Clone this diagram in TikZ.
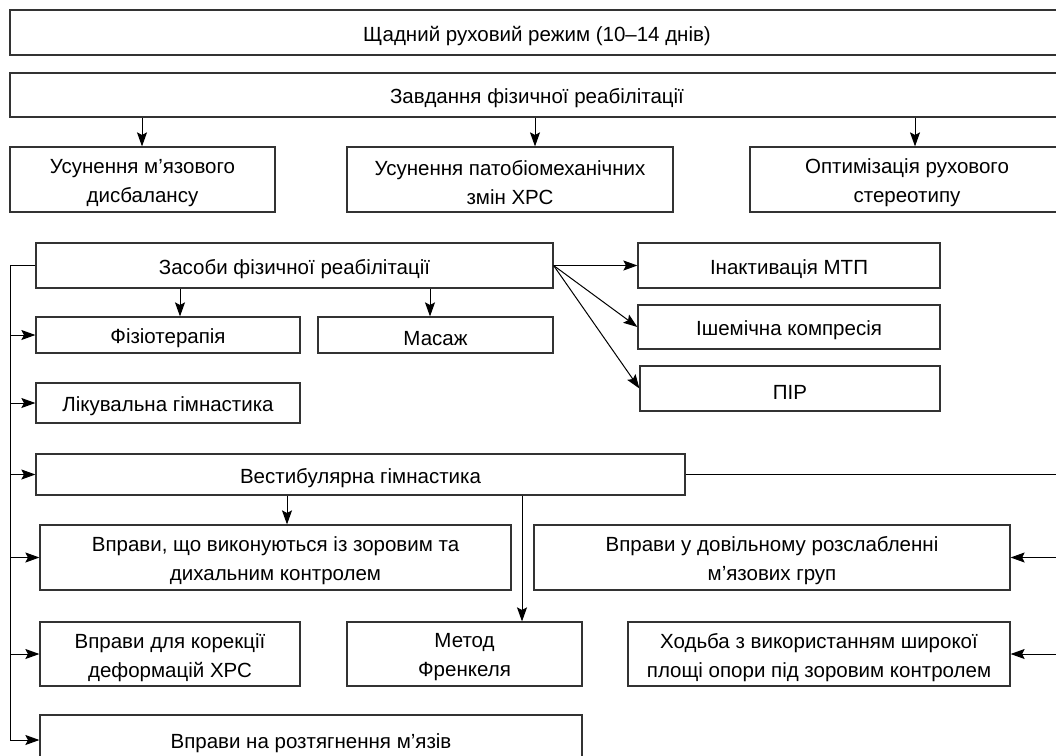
\documentclass[tikz,border=0pt]{standalone}
\usepackage{fontspec}
\setmainfont{Liberation Sans}
\usetikzlibrary{arrows.meta}
\tikzset{
  box/.style={draw=black!80, line width=1.2pt, inner sep=0pt},
  lbl/.style={inner sep=0pt, align=center, yshift=-3.5pt,
    font=\fontsize{20.5}{29}\selectfont},
  conn/.style={line width=1pt, draw=black},
  arr/.style={conn, -{Stealth[length=14pt,width=10pt,inset=2.5pt]}}
}
\newcommand\mybox[6]{%
  \node[box, minimum width={#4pt-#2pt}, minimum height={#5pt-#3pt},
    label={[lbl]center:{#6}}]
    (#1) at ({(#2+#4)/2},{(#3+#5)/2}) {};}
\begin{document}
\begin{tikzpicture}[x=1pt,y=-1pt]
\useasboundingbox (0,0) rectangle (1056,755);
\clip (0,0) rectangle (1056,755);
% top
\mybox{rez}{10}{10}{1064}{55}{Щадний руховий режим (10–14 днів)}
\mybox{zav}{10}{73}{1064}{117}{Завдання фізичної реабілітації}
\mybox{t1}{10}{147}{275}{212}{Усунення м’язового\\дисбалансу}
\mybox{t2}{347}{147}{673}{212}{Усунення патобіомеханічних\\змін ХРС}
\mybox{t3}{750}{147}{1064}{212}{Оптимізація рухового\\стереотипу}
% means
\mybox{zas}{36}{243}{553}{288}{Засоби фізичної реабілітації}
\mybox{mtp}{638}{243}{940}{288}{Інактивація МТП}
\mybox{ish}{638}{305}{940}{349}{Ішемічна компресія}
\mybox{pir}{640}{366}{940}{411}{ПІР}
\mybox{fiz}{36}{317}{300}{353}{Фізіотерапія}
\mybox{mas}{318}{317}{553}{353}{Масаж}
\mybox{lik}{36}{383}{300}{423}{Лікувальна гімнастика}
\mybox{ves}{36}{454}{685}{495}{Вестибулярна гімнастика}
\mybox{vzk}{40}{525}{511}{590}{Вправи, що виконуються із зоровим та\\дихальним контролем}
\mybox{dov}{534}{525}{1010}{590}{Вправи у довільному розслабленні\\м’язових груп}
\mybox{kor}{40}{622}{300}{686}{Вправи для корекції\\деформацій ХРС}
\mybox{fre}{347}{622}{582}{686}{Метод\\Френкеля}
\mybox{hod}{628}{622}{1010}{686}{Ходьба з використанням широкої\\площі опори під зоровим контролем}
\mybox{roz}{40}{715}{582}{765}{Вправи на розтягнення м’язів}
% helper coordinates
\coordinate (xa) at (142,0);
\coordinate (xb) at (535,0);
\coordinate (xc) at (915,0);
\coordinate (xd) at (180,0);
\coordinate (xe) at (430,0);
\coordinate (xf) at (287,0);
\coordinate (xg) at (522,0);
\coordinate (lbus) at (10,0);
\coordinate (rbus) at (1064,0);
% task arrows
\draw[arr] (zav.south -| xa) -- (t1.north -| xa);
\draw[arr] (zav.south -| xb) -- (t2.north -| xb);
\draw[arr] (zav.south -| xc) -- (t3.north -| xc);
% means arrows
\draw[arr] (zas.south -| xd) -- (fiz.north -| xd);
\draw[arr] (zas.south -| xe) -- (mas.north -| xe);
\draw[arr] (zas.east) -- (mtp.west);
\draw[arr] (zas.east) -- (ish.west);
\draw[arr] (zas.east) -- (pir.west);
% left bus
\draw[conn] (zas.west) -- (zas.west -| lbus) -- (roz.west -| lbus);
\foreach \n in {fiz,lik,ves,vzk,kor,roz}
  \draw[arr] (\n.west -| lbus) -- (\n.west);
% vestibular
\draw[arr] (ves.south -| xf) -- (vzk.north -| xf);
\draw[arr] (ves.south -| xg) -- (fre.north -| xg);
\draw[conn] (ves.east) -- (ves.east -| rbus);
\draw[arr] (dov.east -| rbus) -- (dov.east);
\draw[arr] (hod.east -| rbus) -- (hod.east);
\end{tikzpicture}
\end{document}
